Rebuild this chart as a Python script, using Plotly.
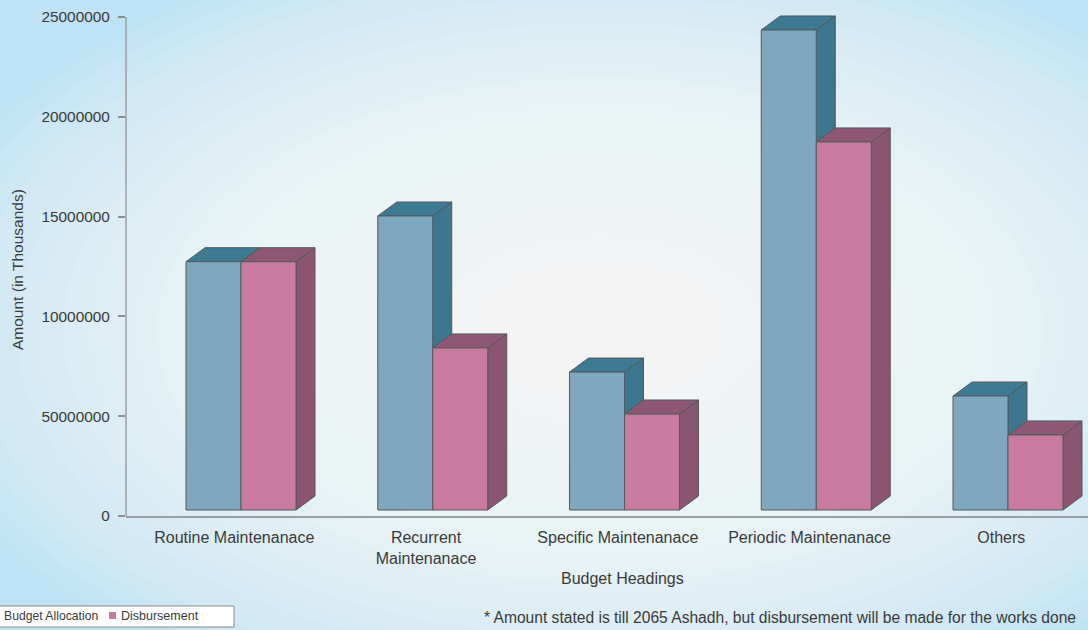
import plotly.graph_objects as go

# ---------------- data ----------------
categories = ["Routine Maintenanace", "Recurrent<br>Maintenanace", "Specific Maintenanace",
              "Periodic Maintenanace", "Others"]
budget_allocation = [12740000, 15030000, 7210000, 24350000, 6010000]
disbursement = [12740000, 8420000, 5110000, 18740000, 4060000]
series_names = ["Budget Allocation", "Disbursement"]
y_tick_values = [0, 5000000, 10000000, 15000000, 20000000, 25000000]
y_tick_labels = ["0", "50000000", "10000000", "15000000", "20000000", "25000000"]
footnote = "* Amount stated is till 2065 Ashadh, but disbursement will be made for the works done"

# ---------------- geometry / style ----------------
W_PX, H_PX = 1088, 630
ML, MB = 126, 114
PW, PH = W_PX - ML, H_PX - MB
UNIT_PX = 191.75              # pixels per category
PX_PER_M = 19.96              # pixels per 1,000,000
X_RANGE = [(ML - 241) / UNIT_PX, (W_PX - 241) / UNIT_PX]
Y_RANGE = [0, PH / PX_PER_M * 1e6]
BAR_W = 55 / UNIT_PX
DX = 19 / UNIT_PX
DY = 14 / PX_PER_M * 1e6
FLOOR = 6 / PX_PER_M * 1e6

FONT = "Liberation Sans, Arial, sans-serif"
TXT = "#3a3a3a"
EDGE = "#505a60"
colors = [
    {"front": "#7fa8be", "top": "#3e7a91", "side": "#3c778e"},
    {"front": "#c87b9e", "top": "#8e5874", "side": "#8a5570"},
]


def xp(px):
    return (px - ML) / PW


def yp(py):
    return (PH - py) / PH


fig = go.Figure()

# 3D bars built from the values
for s, values in enumerate([budget_allocation, disbursement]):
    faces = {"side": ([], []), "top": ([], []), "front": ([], [])}
    for i, v in enumerate(values):
        x0 = i - BAR_W if s == 0 else i
        x1 = x0 + BAR_W
        sx, sy = faces["side"]
        sx += [x1, x1 + DX, x1 + DX, x1, x1, None]
        sy += [FLOOR, FLOOR + DY, v + DY, v, FLOOR, None]
        tx, ty = faces["top"]
        tx += [x0, x1, x1 + DX, x0 + DX, x0, None]
        ty += [v, v, v + DY, v + DY, v, None]
        fx, fy = faces["front"]
        fx += [x0, x1, x1, x0, x0, None]
        fy += [FLOOR, FLOOR, v, v, FLOOR, None]
    for face in ["side", "top", "front"]:
        fx, fy = faces[face]
        fig.add_trace(go.Scatter(
            x=fx, y=fy, mode="lines", fill="toself",
            fillcolor=colors[s][face],
            line=dict(color=EDGE, width=1),
            name=series_names[s], showlegend=False, hoverinfo="skip",
        ))

shapes = []
# radial background gradient
N = 30
for k in range(N):
    f = 1 - k / N
    rx, ry = 700 * f, 400 * f
    cx, cy = 600, 330
    shapes.append(dict(type="circle", xref="paper", yref="paper",
                       x0=xp(cx - rx), x1=xp(cx + rx), y0=yp(cy + ry), y1=yp(cy - ry),
                       fillcolor="white", opacity=0.08, line=dict(width=0), layer="below"))
# y axis line
shapes.append(dict(type="line", xref="paper", yref="y", x0=0, x1=0, y0=0, y1=y_tick_values[-1],
                   line=dict(color="#9a9fa3", width=1.5)))
# legend box
shapes.append(dict(type="rect", xref="paper", yref="paper",
                   x0=xp(-10), x1=xp(234), y0=yp(627), y1=yp(606),
                   fillcolor="white", line=dict(color="#8a8a8a", width=1)))
shapes.append(dict(type="rect", xref="paper", yref="paper",
                   x0=xp(109), x1=xp(116), y0=yp(619), y1=yp(612),
                   fillcolor=colors[1]["front"], line=dict(width=0)))

annotations = [
    dict(text="Amount (in Thousands)", textangle=-90, xref="paper", yref="paper",
         x=xp(17), y=yp(270), xanchor="center", yanchor="middle", showarrow=False,
         font=dict(family=FONT, size=15.5, color=TXT)),
    dict(text="Budget Headings", xref="paper", yref="paper",
         x=xp(622), y=yp(578), xanchor="center", yanchor="middle", showarrow=False,
         font=dict(family=FONT, size=16, color=TXT)),
    dict(text=footnote, xref="paper", yref="paper",
         x=xp(482), y=yp(617), xanchor="left", yanchor="middle", showarrow=False,
         font=dict(family=FONT, size=15.6, color=TXT)),
    dict(text=series_names[0], xref="paper", yref="paper",
         x=xp(2), y=yp(616), xanchor="left", yanchor="middle", showarrow=False,
         font=dict(family=FONT, size=12.2, color=TXT)),
    dict(text=series_names[1], xref="paper", yref="paper",
         x=xp(119), y=yp(616), xanchor="left", yanchor="middle", showarrow=False,
         font=dict(family=FONT, size=12.5, color=TXT)),
]

fig.update_layout(
    width=W_PX, height=H_PX,
    margin=dict(l=ML, r=0, t=0, b=MB, pad=0),
    paper_bgcolor="#bfe2f5", plot_bgcolor="rgba(0,0,0,0)",
    showlegend=False,
    shapes=shapes, annotations=annotations,
    font=dict(family=FONT, color=TXT),
    xaxis=dict(range=X_RANGE, tickvals=[i - 0.035 for i in range(len(categories))],
               ticktext=categories, showgrid=False, zeroline=False,
               showline=True, linecolor="#9a9fa3", linewidth=1.5, ticks="",
               ticklabelstandoff=6,
               tickfont=dict(family=FONT, size=16, color=TXT)),
    yaxis=dict(range=Y_RANGE, tickvals=y_tick_values, ticktext=y_tick_labels,
               showgrid=False, zeroline=False, showline=False,
               ticks="outside", ticklen=7, tickcolor="#8a8f93", tickwidth=1.5,
               ticklabelstandoff=5,
               tickfont=dict(family=FONT, size=15.4, color=TXT)),
)

fig.write_html("out.html")
